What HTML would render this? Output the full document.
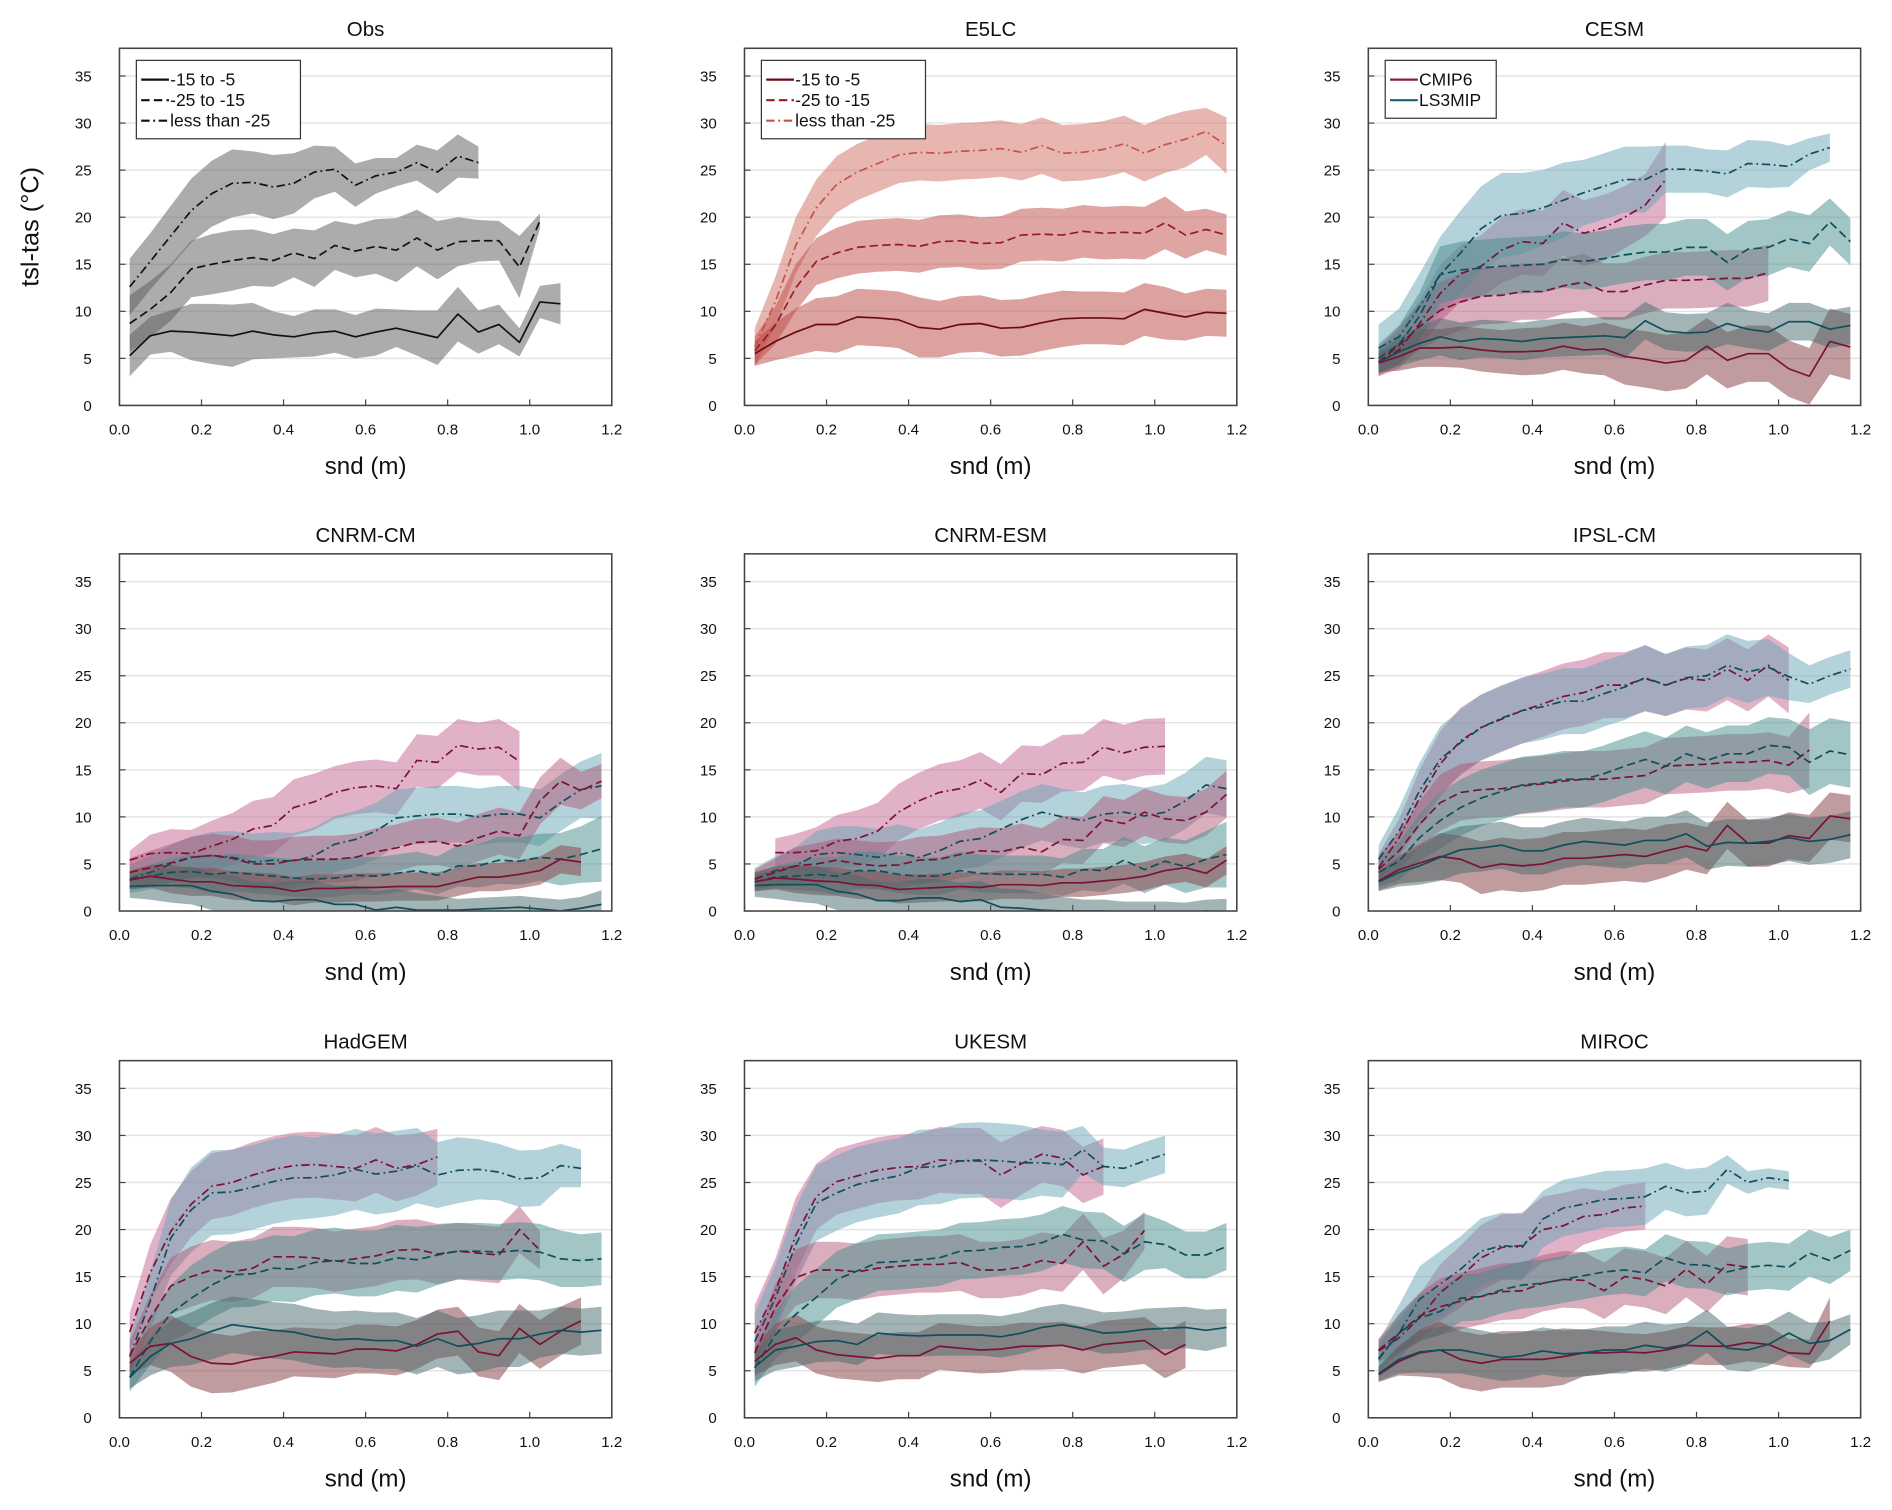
<!DOCTYPE html>
<html><head><meta charset="utf-8">
<style>
html,body{margin:0;padding:0;background:#fff;}
svg{display:block;font-family:"Liberation Sans","DejaVu Sans",sans-serif;}
</style></head>
<body>
<svg id="fig" width="1892" height="1510" viewBox="0 0 1568 1251.4" xmlns="http://www.w3.org/2000/svg"></svg>
<script>
// ---- tick labels ----
const xTickLabels = ["0.0","0.2","0.4","0.6","0.8","1.0","1.2"];
const xTickValues = [0,0.2,0.4,0.6,0.8,1.0,1.2];
const yTickValues = [0,5,10,15,20,25,30,35];
const panelTitles = ["Obs","E5LC","CESM","CNRM-CM","CNRM-ESM","IPSL-CM","HadGEM","UKESM","MIROC"];

// ---- Obs ----
const OBS_C0 = [5.3,7.4,7.9,7.8,7.6,7.4,7.9,7.5,7.3,7.7,7.9,7.3,7.8,8.2,7.7,7.2,9.7,7.8,8.6,6.7,11,10.8];
const OBS_C0_S = [2.2,2,2.2,3,3.2,3.3,3,2.5,2.2,2.5,2.3,2.3,2.5,2,2.4,2.9,2.9,2.3,2.1,1.5,1.7,2.2];
const OBS_C1 = [8.7,10.2,12,14.5,15,15.4,15.7,15.4,16.2,15.6,17,16.4,16.9,16.5,17.8,16.5,17.4,17.5,17.5,14.7,19.6];
const OBS_C1_S = [3,3,3,3,3.2,3.2,3,2.8,2.6,3,2.6,2.8,2.9,3.4,3,3.1,2.6,2.2,2.1,3.3,0.8];
const OBS_C2 = [12.6,15.3,18,20.7,22.5,23.6,23.7,23.2,23.6,24.8,25.1,23.4,24.4,24.8,25.8,24.8,26.5,25.8];
const OBS_C2_S = [3,3,3.2,3.4,3.5,3.6,3.3,3.4,3.2,2.8,2.4,2.3,1.9,1.5,1.9,2.3,2.3,1.7];

// ---- E5LC ----
const E5_C0 = [5.5,6.8,7.8,8.6,8.6,9.4,9.3,9.1,8.3,8.1,8.6,8.7,8.2,8.3,8.8,9.2,9.3,9.3,9.2,10.2,9.8,9.4,9.9,9.8];
const E5_C0_S = [1.3,2,2.5,2.8,3,3,3,3,3.2,3,3,3,3,3,3,3,2.8,2.8,2.8,2.8,2.8,2.5,2.5,2.5];
const E5_C1 = [5.8,8.5,12.5,15.3,16.2,16.8,17,17.1,16.9,17.4,17.5,17.2,17.3,18.1,18.2,18.1,18.5,18.3,18.4,18.3,19.4,18.1,18.7,18.1];
const E5_C1_S = [1.5,2,2.5,2.5,2.7,2.8,2.8,2.8,2.8,2.8,2.8,2.8,2.8,2.8,2.8,2.8,2.8,2.8,2.8,2.8,2.8,2.5,2.2,2.2];
const E5_C2 = [6.2,11,17,21,23.5,24.8,25.7,26.6,26.9,26.8,27,27.1,27.3,26.9,27.6,26.8,26.9,27.2,27.8,26.8,27.7,28.3,29.1,27.6];
const E5_C2_S = [2,2.6,3,3,3,3,3,3,3,3,3,3,3,3,3,3,3,3,3,3,3,3,2.5,3];

// ---- CESM ----
const CESM_L2 = [6.1,7.3,10.5,13.9,16.2,18.8,20.2,20.4,21,21.8,22.6,23.3,24,24,25.1,25.1,24.9,24.6,25.7,25.6,25.4,26.7,27.4];
const CESM_L2_S = [2.5,3,3.5,4,4.5,4.5,4.5,4.3,4,4,3.5,3.5,3.5,3.5,2.5,2.5,2.3,2.5,2.5,2.5,2.2,1.7,1.5];
const CESM_C2 = [4.6,5.9,8.7,11.9,14,14.8,16.5,17.4,17.2,19.4,18.3,18.9,20,21.3,24];
const CESM_C2_S = [1.5,2,2.5,3,3,3.3,3.5,3.5,3.5,3.5,3.5,3.5,3.3,3.3,4];
const CESM_C1 = [4.6,6.4,8.4,10.1,11,11.6,11.7,12.1,12.1,12.7,13.1,12.1,12.1,12.8,13.3,13.3,13.4,13.5,13.5,14.1];
const CESM_C1_S = [1.5,2,2.5,3,3,3,3,3,3,3,3,3,3,3,3,3,3,3,3,3];
const CESM_L1 = [5,6.5,9.5,13.9,14.4,14.6,14.8,14.9,15,15.5,15.3,15.6,16,16.3,16.3,16.8,16.8,15.2,16.6,16.8,17.7,17.2,19.5,17.4];
const CESM_L1_S = [1.5,2,2.5,3,3,3,3,3,3,3,3,3,3,3,3,3,3,3,3,3,3,3,2.5,2.5];
const CESM_L0 = [4.6,5.7,6.6,7.3,6.8,7.1,7,6.8,7.1,7.2,7.3,7.4,7.2,9,7.9,7.7,7.8,8.7,8.1,7.8,8.9,8.9,8.1,8.5];
const CESM_L0_S = [1.2,1.5,1.8,2,2,2,2,2,2,2,2,2,2.2,2,2,2,2,2.2,2,2,2,2,2,2];
const CESM_C0 = [4.5,5.2,6.1,6.1,6.2,5.9,5.7,5.7,5.8,6.3,5.9,6,5.2,4.9,4.5,4.8,6.3,4.8,5.5,5.5,3.9,3.1,6.8,6.2];
const CESM_C0_S = [1,1.5,2,2,2.2,2.3,2.3,2.5,2.5,2.5,2.5,2.8,3,3,3,3,3,3,3,3,3,3,3.5,3.5];

// ---- CNRM-CM ----
const CM_C2 = [5.4,6.1,6.2,6.1,6.9,7.6,8.7,9.1,11,11.6,12.6,13.1,13.3,13,16,15.8,17.6,17.2,17.4,15.9];
const CM_C2_S = [1,2,2.5,2.5,2.7,2.8,3,3,3,3,2.8,2.8,2.8,2.8,2.8,2.8,2.8,2.8,3,3.2];
const CM_L2 = [3.4,4.1,5,5.7,5.9,5.7,5.2,5.4,5.3,5.9,7.1,7.6,8.5,9.9,10.1,10.3,10.3,10,10.3,10.3,9.9,11.5,12.9,13.3];
const CM_L2_S = [1.5,1.8,2,2.2,2.5,2.8,3,3,3,3,3,3,3,3,3,3,3,3,3,3,3,3,3,3.5];
const CM_C1 = [4.1,4.6,5.1,5.7,5.9,5.6,5,5,5.4,5.5,5.5,5.7,6.3,6.7,7.3,7.4,6.9,7.8,8.5,8,11.7,13.8,12.8,13.8];
const CM_C1_S = [1.5,1.8,2,2.2,2.3,2.4,2.5,2.5,2.5,2.5,2.5,2.5,2.5,2.5,2.5,2.5,2.5,2.5,2.5,2.5,2.5,2.5,2,1.8];
const CM_L1 = [3.3,3.7,4.1,4.2,3.9,4.1,3.9,3.7,3.5,3.4,3.5,3.8,3.7,4,4.3,3.8,4.8,4.8,5.4,5.3,5.7,5.5,6,6.6];
const CM_L1_S = [1,1.2,1.5,1.8,2,2,2,2,2,2,2,2,2,2,2,2,2.2,2.3,2.5,2.5,2.5,2.8,3,3.5];
const CM_C0 = [3.3,3.7,3.4,3.1,3.1,2.7,2.6,2.5,2.1,2.4,2.4,2.5,2.5,2.6,2.6,2.6,3.1,3.6,3.6,3.9,4.3,5.5,5.2];
const CM_C0_S = [1,1.2,1.5,1.5,1.5,1.5,1.5,1.5,1.5,1.5,1.5,1.5,1.5,1.5,1.5,1.5,1.5,1.5,1.5,1.5,1.5,1.5,1.5];
const CM_L0 = [2.6,2.7,2.7,2.7,2.1,1.8,1.1,1,1.2,1.2,0.7,0.7,0.1,0.4,0.1,0.1,0.1,0.2,0.3,0.4,0.2,0,0.3,0.7];
const CM_L0_S = [1.2,1.5,1.8,2,2,2,2,2,2,2,2,2,2,2,1.8,1.5,1.2,1.2,1.2,1.2,1.2,1.2,1.2,1.5];

// ---- CNRM-ESM ----
const ES_C2 = [null,6.2,6.2,6.4,7.4,7.7,8.5,10.5,11.7,12.6,13,13.9,12.6,14.6,14.5,15.7,15.8,17.4,16.8,17.4,17.5];
const ES_C2_S = [0,1.5,2,2.5,2.8,3,3,3,3,3,3,3,3,3,3,3,3,3,3,3,3];
const ES_L2 = [3.4,4.3,4.8,6,6.2,6,5.7,6.2,5.7,6.4,7.4,7.7,8.7,9.7,10.5,10,9.6,10.3,10.5,10.1,10.5,11.7,13.4,13];
const ES_L2_S = [1.2,1.5,2,2.5,2.8,3,3,3,3,3,3,3,3,3,3,3,3,3,3,3,3,3,3,3];
const ES_C1 = [3.4,4.1,4.8,5,5.4,5,4.8,4.9,5.4,5.5,6,6.4,6.3,6.8,6.3,7.6,7.5,9.7,9.3,10.5,9.8,9.6,10.5,12.4];
const ES_C1_S = [1,1.5,2,2.2,2.3,2.5,2.5,2.5,2.5,2.5,2.5,2.5,2.5,2.5,2.5,2.5,2.5,2.5,2.5,2.5,2.5,2.5,2.5,2.5];
const ES_L1 = [3.1,3.6,3.7,3.9,3.7,4.3,4.3,3.9,3.7,3.7,4.3,4,3.9,3.9,3.9,3.6,4.4,4.3,5.4,4.4,5.3,4.7,5.5,6];
const ES_L1_S = [1,1.2,1.5,1.8,2,2,2,2,2,2,2,2,2,2,2,2,2.2,2.3,2.5,2.5,2.5,2.8,3,3.5];
const ES_C0 = [3.1,3.5,3.4,3.2,3.1,2.8,2.7,2.3,2.4,2.5,2.6,2.5,2.8,2.8,2.7,3,3,3.2,3.4,3.7,4.3,4.6,4,5.4];
const ES_C0_S = [1,1.2,1.5,1.5,1.5,1.5,1.5,1.5,1.5,1.5,1.5,1.5,1.5,1.5,1.5,1.5,1.5,1.5,1.5,1.5,1.5,1.5,1.5,1.5];
const ES_L0 = [2.7,2.8,2.8,2.8,2.1,1.8,1.1,1.1,1.4,1.4,1,1.2,0.4,0.3,0.1,0,0,0,-0.2,-0.2,-0.2,-0.3,0,-0.2];
const ES_L0_S = [1.2,1.5,1.8,2,2,2,2,2,2,2,2,2,2,2,1.8,1.5,1.2,1.2,1.2,1.2,1.2,1.2,1.2,1.5];

// ---- IPSL-CM ----
const IP_C2 = [4.6,7.8,12,15.6,18.1,19.5,20.4,21.3,22,22.8,23.2,24,24,24.7,24,24.7,24.5,25.7,24.5,26.1,24.5];
const IP_C2_S = [1.5,2,3,3.5,3.5,3.5,3.5,3.5,3.5,3.5,3.5,3.5,3.5,3.5,3.3,3.3,3.3,3.3,3.3,3.3,3.5];
const IP_L2 = [5.5,8.5,12.8,16.1,17.9,19.5,20.5,21.3,21.7,22.3,22.3,23.1,23.8,24.8,24,24.8,25,26.1,25.4,25.9,24.9,24.1,25,25.7];
const IP_L2_S = [1.5,2.5,3,3.5,3.5,3.5,3.5,3.5,3.5,3.5,3.5,3.5,3.5,3.5,3.3,3.3,3.3,3.3,3.3,3,2.5,2,2,2];
const IP_C1 = [4.4,6.4,9.2,11.5,12.6,12.9,13,13.3,13.5,13.8,14,14,14.2,14.4,15.4,15.5,15.6,15.8,15.8,16,15.5,17.1];
const IP_C1_S = [1.5,2,2.5,3,3,3,3,3,3,3,3,3,3,3,3,3,3,3,3,3,3,4];
const IP_L1 = [4.1,5.3,7.8,9.6,11,12,12.7,13.4,13.6,14,14,14.6,15.4,16.1,15.4,16.7,16,16.7,16.7,17.6,17.4,15.8,17,16.6];
const IP_L1_S = [1.5,2,2.5,3,3,3,3,3,3,3,3,3,3,3,3,3,3,3,3,3,3,3.5,3.5,3.5];
const IP_C0 = [3.2,4.4,5.1,5.8,5.5,4.6,5,4.8,5,5.6,5.6,5.8,6,5.8,6.4,6.9,6.4,9.1,7.2,7.2,8,7.7,10.1,9.8];
const IP_C0_S = [1,1.5,2,2.5,2.5,2.8,2.8,2.8,2.8,2.8,2.8,2.8,2.8,2.8,2.8,2.5,2.5,2.5,2.5,2.5,2.5,2.5,2.5,2.5];
const IP_L0 = [3.1,4.1,4.8,5.7,6.5,6.7,7,6.4,6.4,7,7.4,7.2,7,7.5,7.5,8.2,6.9,7.3,7.2,7.4,7.8,7.4,7.6,8.1];
const IP_L0_S = [1,1.5,2,2.5,2.5,2.5,2.5,2.5,2.5,2.5,2.5,2.5,2.5,2.5,2.5,2.5,2.5,2.5,2.5,2.5,2.5,2.5,2.5,2.5];

// ---- HadGEM ----
const HG_C2 = [9.1,15.4,19.8,22.7,24.6,25,25.8,26.4,26.8,26.9,26.7,26.5,27.4,26.5,26.9,27.7];
const HG_C2_S = [2,3,3.5,3.5,3.5,3.5,3.5,3.5,3.5,3.5,3.5,3.5,3.5,3.5,3.3,3];
const HG_L2 = [6.5,12.4,19.1,22.1,23.9,24,24.5,25.1,25.5,25.5,25.8,26.4,25.9,26.2,26.8,25.8,26.3,26.4,26.1,25.4,25.5,26.8,26.5];
const HG_L2_S = [2,3,4,4.5,4.5,4.5,4.5,4.5,4.5,4.3,4.3,4.3,4.3,4.3,4,3.5,3.5,3.2,3,3,3,2.3,2];
const HG_C1 = [6.6,10.6,14,15,15.7,15.5,15.9,17.1,17.1,17,16.6,16.9,17.2,17.8,17.9,17.4,17.7,17.5,17.3,20,17.8];
const HG_C1_S = [1.5,2.5,3,3.2,3.2,3.2,3.2,3.2,3.2,3.2,3.2,3.2,3.2,3.2,3.2,3.2,3,3,3,2.5,2];
const HG_L1 = [4.3,8.1,11.1,12.7,14.1,15.2,15.3,15.9,15.8,16.5,16.7,16.4,16.4,17,16.8,17.3,17.7,17.7,17.6,17.8,17.6,16.9,16.7,16.9];
const HG_L1_S = [1.5,2.5,3,3.5,3.5,3.5,3.5,3.5,3.5,3.5,3.5,3.5,3.5,3.5,3.5,3.2,3,3,3,3,3,3,2.8,2.8];
const HG_C0 = [5.8,7.6,7.9,6.5,5.8,5.7,6.2,6.5,7,6.9,6.8,7.3,7.3,7.1,7.8,8.9,9.2,7,6.6,9.5,7.8,9.2,10.3];
const HG_C0_S = [1.2,2,3,3.2,3.2,3,3,2.8,2.6,2.6,2.6,2.6,2.6,2.6,2.6,2.6,2.6,2.6,2.6,2.6,2.6,2.6,2.5];
const HG_L0 = [4.3,6.5,7.9,8.4,9.2,9.9,9.6,9.3,9.1,8.6,8.3,8.4,8.2,8.2,7.6,8.4,7.6,7.9,8.4,8.4,8.9,9.3,9.1,9.3];
const HG_L0_S = [1.2,2,2.5,2.8,3,3,3,3,3,3,3,3,3,3,3,3,3,3,3,3,2.5,2.5,2.5,2.5];

// ---- UKESM ----
const UK_C2 = [9,13.4,19.4,23.5,25.1,25.7,26.3,26.6,26.7,27.4,27.3,27.3,25.8,27,28,27.6,25.8,26.7];
const UK_C2_S = [3,3.5,4,3.5,3.5,3.5,3.5,3.5,3.5,3.5,3.5,3.5,3.5,3.3,3,3,3,3];
const UK_L2 = [8.1,12.7,18.4,22.8,23.9,24.8,25.3,25.7,26.6,26.7,27.3,27.4,27.3,27.1,27.1,26.9,28.5,26.7,26.5,27.3,28];
const UK_L2_S = [3,3.5,4,4,4,4,4,4,4,4,4,4,4,4,3.5,3.5,2.5,2,2,2,2];
const UK_C1 = [6.9,11.7,14.9,15.7,15.7,15.5,15.9,16.1,16.3,16.3,16.5,15.7,15.7,16,16.7,16.4,18.7,16.1,17.4,19.9];
const UK_C1_S = [1.5,2.5,3,3,3,3,3,3,3,3,3,3,3,3,3,3,3,3,2.5,2];
const UK_L1 = [5.3,8.8,11,12.8,14.7,15.6,16.5,16.6,16.8,17,17.7,17.8,18.1,18.2,18.6,19.5,18.9,18.8,17.4,18.7,18.4,17.3,17.3,18.2];
const UK_L1_S = [2,2.5,3,3,3,3,3,3,3,3,3,3,3,3,3,3,3,3,3,3,2.5,2.5,2.5,2.5];
const UK_C0 = [6,7.8,8.5,7.2,6.7,6.5,6.3,6.6,6.6,7.6,7.4,7.2,7.3,7.6,7.6,7.7,7.2,7.8,8,8.2,6.7,7.8];
const UK_C0_S = [1.5,2.2,2.5,2.5,2.5,2.5,2.5,2.5,2.5,2.5,2.5,2.5,2.5,2.5,2.5,2.5,2.5,2.5,2.5,2.5,2.5,2.5];
const UK_L0 = [5.4,7.2,7.6,8.1,8.2,7.8,9,8.8,8.7,8.8,8.8,8.8,8.6,9,9.6,9.9,9.5,9,9.1,9.4,9.5,9.6,9.3,9.6];
const UK_L0_S = [1.5,2.2,2.2,2.2,2.2,2.2,2.2,2.2,2.2,2.2,2.2,2.2,2.2,2.2,2.2,2.2,2.2,2.2,2.2,2.2,2.2,2.2,2.2,2];

// ---- MIROC ----
const MI_L2 = [6.2,9,12.6,14.2,15.8,17.7,18.3,18.1,21.1,22.3,22.7,23.2,23.3,23.5,24.6,23.9,24.1,26.4,25,25.5,25.2];
const MI_L2_S = [2,3,3.5,3.5,3.5,3.5,3.5,3.5,3,3,3,3,3,3,2.5,2.5,2.5,1.5,1.2,1,1];
const MI_C2 = [7.1,8.5,10.6,13.3,15,17,18.1,18.3,20,20.4,21.4,21.6,22.3,22.5];
const MI_C2_S = [1.2,1.8,2.5,3,3.3,3.5,3.5,3.5,3.5,3.5,3,2.5,2.5,2.5];
const MI_C1 = [7.2,9,10.8,11.8,12.4,12.9,13.4,13.5,14.3,14.7,14.6,13.5,15,14.7,14,15.8,14.2,16.3,16];
const MI_C1_S = [1.2,2,2.5,3,3,3,3,3,3,3,3,3,3,3,3,3,3,3,3];
const MI_L1 = [6.3,9,10.6,11.3,12.7,12.9,13.6,14.1,14.3,14.7,15.1,15.5,15.7,15.4,17,16.3,16.2,15.5,16,16.2,16,17.5,16.7,17.8];
const MI_L1_S = [1.5,2,2.5,2.5,2.5,2.5,2.5,2.5,2.5,2.5,2.5,2.5,2.5,2.5,2.5,2.5,2.5,2.5,2.5,2.5,2.5,2.5,2.5,2.2];
const MI_C0 = [4.6,6,6.9,7.2,6.2,5.8,6.2,6.2,6.2,6.5,6.9,6.9,7,6.9,7.2,7.7,7.6,7.6,8,7.8,6.9,6.8,10.3];
const MI_C0_S = [0.8,1.5,2.5,3,3,3,3,3,3,3,2.5,2.3,2,2,2,2,2,2,2,2,1.5,1.5,2.5];
const MI_L0 = [4.7,6.2,7,7.2,7.2,6.8,6.4,6.6,7.1,6.8,6.9,7.2,7.2,7.7,7.4,7.8,9.2,7.4,7.2,7.8,9,7.9,8.2,9.4];
const MI_L0_S = [0.8,1.5,2.2,2.5,2.5,2.5,2.5,2.5,2.5,2.5,2.5,2.5,2.5,2.5,2.5,2.3,2.3,2.3,2.3,2.3,2.3,2.2,2,1.6];

// ---- styles ----
const DASH = ["", "7,3.5", "7,3,1.5,3"];
const C_LINE = "#7a1235", L_LINE = "#0f4e5b";
const C_FILL = ["rgba(140,75,80,0.55)","rgba(175,75,110,0.45)","rgba(195,100,145,0.5)"];
const L_FILL = ["rgba(70,105,110,0.5)","rgba(70,140,140,0.5)","rgba(105,165,180,0.5)"];
const O_FILL = "rgba(90,90,90,0.5)";
const E_FILL = ["rgba(185,70,65,0.5)","rgba(190,75,70,0.5)","rgba(210,110,100,0.5)"];
const E_LINE = ["#6b0a12","#9a1a22","#c8504a"];

const panels = [
  [{m:OBS_C2,s:OBS_C2_S,c:2,f:O_FILL,l:"#111"},{m:OBS_C1,s:OBS_C1_S,c:1,f:O_FILL,l:"#111"},{m:OBS_C0,s:OBS_C0_S,c:0,f:O_FILL,l:"#111"}],
  [{m:E5_C2,s:E5_C2_S,c:2,f:E_FILL[2],l:E_LINE[2]},{m:E5_C1,s:E5_C1_S,c:1,f:E_FILL[1],l:E_LINE[1]},{m:E5_C0,s:E5_C0_S,c:0,f:E_FILL[0],l:E_LINE[0]}],
  mk(CESM_C2,CESM_C2_S,CESM_L2,CESM_L2_S,CESM_C1,CESM_C1_S,CESM_L1,CESM_L1_S,CESM_C0,CESM_C0_S,CESM_L0,CESM_L0_S),
  mk(CM_C2,CM_C2_S,CM_L2,CM_L2_S,CM_C1,CM_C1_S,CM_L1,CM_L1_S,CM_C0,CM_C0_S,CM_L0,CM_L0_S),
  mk(ES_C2,ES_C2_S,ES_L2,ES_L2_S,ES_C1,ES_C1_S,ES_L1,ES_L1_S,ES_C0,ES_C0_S,ES_L0,ES_L0_S),
  mk(IP_C2,IP_C2_S,IP_L2,IP_L2_S,IP_C1,IP_C1_S,IP_L1,IP_L1_S,IP_C0,IP_C0_S,IP_L0,IP_L0_S),
  mk(HG_C2,HG_C2_S,HG_L2,HG_L2_S,HG_C1,HG_C1_S,HG_L1,HG_L1_S,HG_C0,HG_C0_S,HG_L0,HG_L0_S),
  mk(UK_C2,UK_C2_S,UK_L2,UK_L2_S,UK_C1,UK_C1_S,UK_L1,UK_L1_S,UK_C0,UK_C0_S,UK_L0,UK_L0_S),
  mk(MI_C2,MI_C2_S,MI_L2,MI_L2_S,MI_C1,MI_C1_S,MI_L1,MI_L1_S,MI_C0,MI_C0_S,MI_L0,MI_L0_S)
];
function mk(c2,c2s,l2,l2s,c1,c1s,l1,l1s,c0,c0s,l0,l0s){
  return [
    {m:c2,s:c2s,c:2,f:C_FILL[2],l:C_LINE},{m:l2,s:l2s,c:2,f:L_FILL[2],l:L_LINE},
    {m:c1,s:c1s,c:1,f:C_FILL[1],l:C_LINE},{m:l1,s:l1s,c:1,f:L_FILL[1],l:L_LINE},
    {m:c0,s:c0s,c:0,f:C_FILL[0],l:C_LINE},{m:l0,s:l0s,c:0,f:L_FILL[0],l:L_LINE}
  ];
}

const NS = "http://www.w3.org/2000/svg";
const svg = document.getElementById("fig");
const X0 = [99,617,1134], Y0 = [40,459,879], W = 408, H = 296, PXU = 7.8;
function el(tag, attrs, parent){
  const e = document.createElementNS(NS, tag);
  for (const k in attrs) e.setAttribute(k, attrs[k]);
  (parent||svg).appendChild(e); return e;
}
const defs = el("defs", {});

panels.forEach((series, p) => {
  const col = p % 3, row = Math.floor(p / 3);
  const x0 = X0[col], y0 = Y0[row];
  const xs = v => x0 + v / 1.2 * W;
  const ys = v => y0 + H - v * PXU;
  const g = el("g", {});
  
  
  const cp = el("clipPath", {id: "cp" + p}, defs);
  el("rect", {x: x0, y: y0, width: W, height: H}, cp);

  // gridlines
  yTickValues.forEach(v => {
    if (v > 0) {
      const gl = el("line", {x1: x0, x2: x0 + W, y1: ys(v), y2: ys(v), stroke: "#e4e4e4", "stroke-width": 1.2}, g);
      
      
      el("line", {x1: x0, x2: x0 + 5, y1: ys(v), y2: ys(v), stroke: "#444", "stroke-width": 1}, g);
    }
    const t = el("text", {x: x0 - 23, y: ys(v) + 4.5, "text-anchor": "end", "font-size": 12.5, fill: "#111"}, g);
    t.textContent = v;
    
    
  });
  xTickValues.forEach((v, i) => {
    el("line", {x1: xs(v), x2: xs(v), y1: y0 + H, y2: y0 + H - 5, stroke: "#444", "stroke-width": 1}, g);
    const t = el("text", {x: xs(v), y: y0 + H + 24, "text-anchor": "middle", "font-size": 12.5, fill: "#111"}, g);
    t.textContent = xTickLabels[i];
    
    
  });

  const plot = el("g", {"clip-path": "url(#cp" + p + ")"}, g);
  // bands
  series.forEach(s => {
    let up = [], dn = [];
    s.m.forEach((v, i) => {
      if (v === null) return;
      const x = xs(0.025 + 0.05 * i);
      up.push(x.toFixed(1) + "," + ys(v + s.s[i]).toFixed(1));
      dn.unshift(x.toFixed(1) + "," + ys(v - s.s[i]).toFixed(1));
    });
    const b = el("polygon", {points: up.concat(dn).join(" "), fill: s.f, stroke: "none"}, plot);
    
    
  });
  // lines
  series.forEach(s => {
    let pts = [];
    s.m.forEach((v, i) => { if (v !== null) pts.push(xs(0.025 + 0.05 * i).toFixed(1) + "," + ys(v).toFixed(1)); });
    const ln = el("polyline", {points: pts.join(" "), fill: "none", stroke: s.l, "stroke-width": 1.4, "stroke-dasharray": DASH[s.c], "stroke-linejoin": "round"}, plot);
    
    
  });

  const fr = el("rect", {x: x0, y: y0, width: W, height: H, fill: "none", stroke: "#444", "stroke-width": 1.3}, g);
  
  
  const tt = el("text", {x: x0 + W / 2, y: y0 - 10, "text-anchor": "middle", "font-size": 17, fill: "#111"}, g);
  tt.textContent = panelTitles[p];
  
  
  const xt = el("text", {x: x0 + W / 2, y: y0 + H + 57, "text-anchor": "middle", "font-size": 20, fill: "#111"}, g);
  xt.textContent = "snd (m)";
  
  
});

// y-axis title
const yt = el("text", {x: 0, y: 0, transform: "translate(32,188) rotate(-90)", "text-anchor": "middle", "font-size": 21, fill: "#111"});
yt.textContent = "tsl-tas (°C)";



// legends
function legend(x, y, w, h, entries){
  const lg = el("g", {});
  
  
  el("rect", {x: x, y: y, width: w, height: h, fill: "#fff", stroke: "#333", "stroke-width": 1}, lg);
  entries.forEach((e, i) => {
    const yy = y + 16 + i * 17;
    el("line", {x1: x + 4, x2: x + 27, y1: yy, y2: yy, stroke: e.c, "stroke-width": 1.8, "stroke-dasharray": e.d}, lg);
    const t = el("text", {x: x + 28, y: yy + 5, "font-size": 14.5, fill: "#111"}, lg);
    t.textContent = e.t;
    
    
  });
}
legend(113, 50, 136, 65, [{t:"-15 to -5",c:"#111",d:""},{t:"-25 to -15",c:"#111",d:DASH[1]},{t:"less than -25",c:"#111",d:DASH[2]}]);
legend(631, 50, 136, 65, [{t:"-15 to -5",c:E_LINE[0],d:""},{t:"-25 to -15",c:E_LINE[1],d:DASH[1]},{t:"less than -25",c:E_LINE[2],d:DASH[2]}]);
legend(1148, 50, 92, 48, [{t:"CMIP6",c:"#8a1a40",d:""},{t:"LS3MIP",c:"#1a6070",d:""}]);
</script>
</body></html>
